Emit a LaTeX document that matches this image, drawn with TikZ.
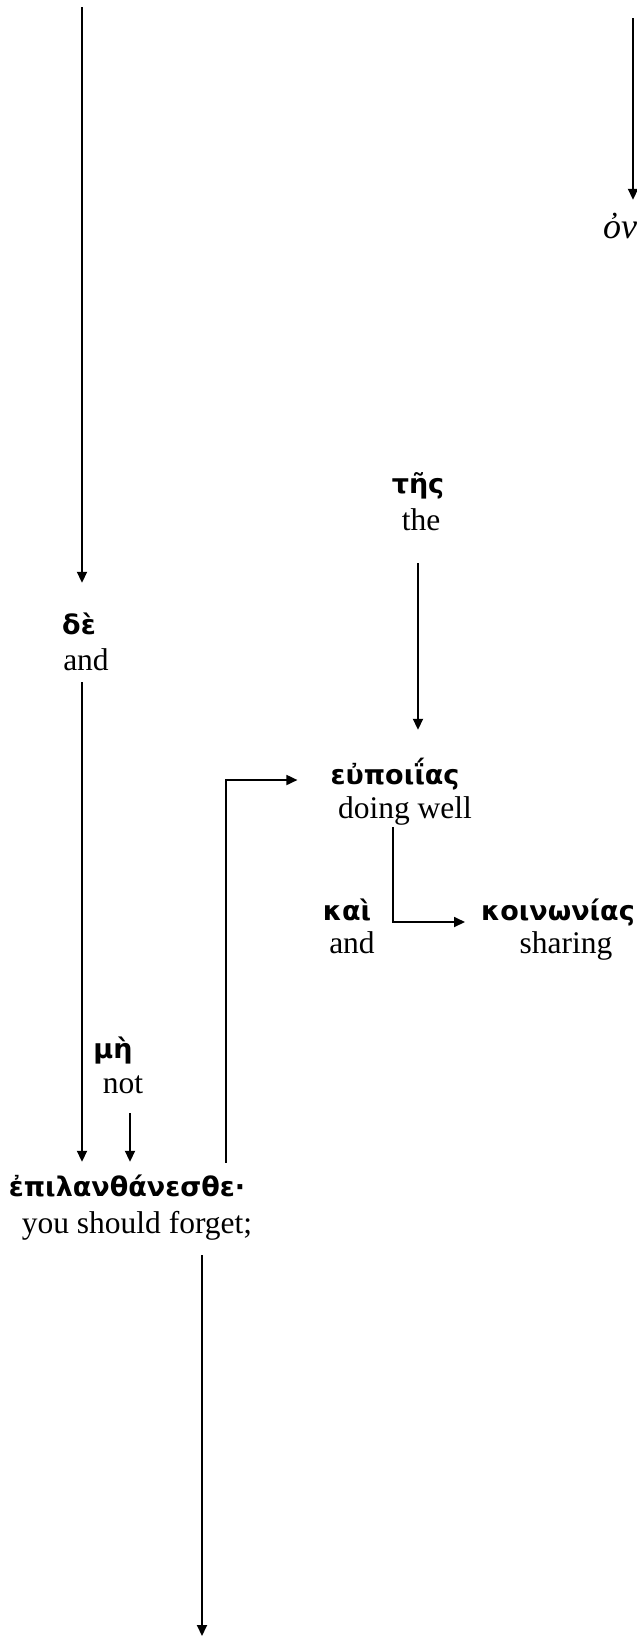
\documentclass[tikz,border=0pt]{standalone}
\usepackage{fontspec}
\setmainfont{Liberation Serif}
\newfontfamily\grfont{DejaVu Sans}
\usetikzlibrary{arrows.meta,calc}
\tikzset{
  gr/.style={font=\grfont\bfseries\fontsize{27}{32}\selectfont, inner sep=0pt, anchor=base, text height=18pt, text depth=6pt},
  en/.style={font=\fontsize{31.5}{36}\selectfont, inner sep=0pt, anchor=base, text height=22pt, text depth=8pt},
  arr/.style={-{Triangle[length=11pt,width=10pt]}, line width=1.8pt}
}
\begin{document}
\begin{tikzpicture}[x=1pt,y=-1pt]
\useasboundingbox (0,0) rectangle (637,1642);
% free ends
\coordinate (tl) at (82,7);
\coordinate (tr) at (633,18);
\coordinate (bend1) at (226,780);
\coordinate (bend2) at (393,922);
\coordinate (bot) at (202,1636);
% nodes
\node[en, anchor=base west, font=\itshape\fontsize{36}{40}\selectfont] (on) at (603,238) {ὀν};
\node[gr] (tesG) at (418,493) {τῆς};
\node[en] (tesE) at (421,530) {the};
\node[gr] (deG) at (79,634) {δὲ};
\node[en] (deE) at (86,670) {and};
\node[gr] (euG) at (395,784) {εὐποιΐας};
\node[en] (euE) at (405,818) {doing well};
\node[gr] (kaiG) at (347,920) {καὶ};
\node[en] (kaiE) at (352,953) {and};
\node[gr] (koG) at (558,920) {κοινωνίας};
\node[en] (koE) at (566,953) {sharing};
\node[gr] (muG) at (113,1058) {μὴ};
\node[en] (muE) at (123,1093) {not};
\node[gr] (epG) at (127,1196) {ἐπιλανθάνεσθε·};
\node[en] (epE) at (137,1233) {you should forget;};
% connectors
\draw[arr] (tr) -- ($(on.north -| tr)+(0,-16)$);
\draw[arr] (tl) -- ($(deG.north -| tl)+(0,-33)$);
\draw[arr] ($(deE.south -| tl)+(0,4)$) -- ($(epG.north -| tl)+(0,-16)$);
\draw[arr] ($(muE.south)+(7,12)$) -- ($(epG.north -| muE.south)+(7,-16)$);
\draw[arr] ($(tesE.south)+(-3,25)$) -- ($(euG.north)+(23,-36)$);
\draw[arr] ($(epG.north -| bend1)+(0,-15)$) -- (bend1) -- ($(euG.west |- bend1)+(-33,0)$);
\draw[arr] ($(euE.south -| bend2)+(0,1)$) -- (bend2) -- ($(koG.west |- bend2)+(-16,0)$);
\draw[arr] ($(epE.south -| bot)+(0,14)$) -- (bot);
\end{tikzpicture}
\end{document}
